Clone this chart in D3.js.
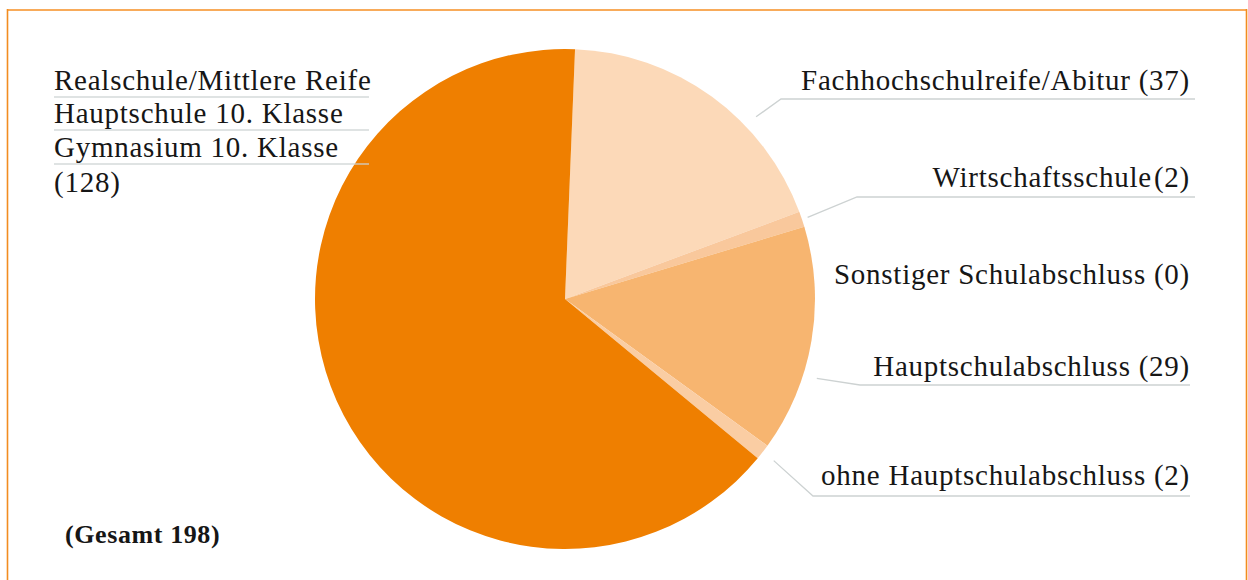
<!DOCTYPE html>
<html>
<head>
<meta charset="utf-8">
<script src="https://cdn.jsdelivr.net/npm/d3@7"></script>
<style>
  body { margin: 0; background: #fff; }
  text { font-family: "Liberation Serif", serif; fill: #161616; }
</style>
</head>
<body>
<div id="chart"></div>
<script>
var svgWidth = 1248;
var svgHeight = 580;

// data, clockwise from top
var categories = ["Fachhochschulreife/Abitur", "Wirtschaftsschule", "Sonstiger Schulabschluss",
  "Hauptschulabschluss", "ohne Hauptschulabschluss", "Realschule/Mittlere Reife"];
var counts = [37, 2, 0, 29, 2, 128];
var total = 198;
var colors = ["#fcd9b8", "#f9c89c", "#f9c89c", "#f7b570", "#facda3", "#ef7f00"];

// label layout: baseline, underline y, elbow x of leader, underline end, anchor inside slice
var labelY = [90, 187, 284, 376, 485];
var lineY = [99, 197, null, 385, 496];
var elbowX = [781, 857, null, 860, 813];
var lineEnd = [1195, 1195, null, 1190, 1190];
var anchorFrac = [0.655, 0.5, 0.5, 0.65, 0.5];

var cx = 565, cy = 299, radius = 250;
var startDeg = 2.3;
var fontSize = 29;

var svg = d3.select("#chart")
    .append("svg")
    .attr("width", svgWidth)
    .attr("height", svgHeight);

// frame
svg.append("line")
    .attr("x1", 7).attr("x2", 1247)
    .attr("y1", 10).attr("y2", 10)
    .attr("stroke", "#f8ab5a")
    .attr("stroke-width", 2);
svg.selectAll(".side")
    .data([7.5, 1246.5])
    .enter()
    .append("line")
    .attr("class", "side")
    .attr("x1", d => d).attr("x2", d => d)
    .attr("y1", 9).attr("y2", 580)
    .attr("stroke", "#f28c20")
    .attr("stroke-width", 1.6);

var pie = d3.pie()
    .sort(null)
    .value(d => d)
    .startAngle(startDeg * Math.PI / 180)
    .endAngle(startDeg * Math.PI / 180 + 2 * Math.PI);

var arcs = pie(counts);

var arc = d3.arc()
    .innerRadius(0)
    .outerRadius(radius);

var pieGroup = svg.append("g")
    .attr("transform", `translate(${cx}, ${cy})`);

pieGroup.selectAll("path")
    .data(arcs)
    .enter()
    .append("path")
    .attr("d", arc)
    .attr("fill", (d, i) => colors[i]);

// right-hand labels
var textRight = 1190;
arcs.slice(0, 5).forEach(function(d, i) {
    var label = categories[i] + " (" + counts[i] + ")";
    if (elbowX[i] !== null) {
        var a = d.startAngle + (d.endAngle - d.startAngle) * anchorFrac[i];
        var r = i === 1 ? 256 : 264;
        var x0 = cx + r * Math.sin(a);
        var y0 = cy - r * Math.cos(a);
        svg.append("polyline")
            .attr("points", `${x0},${y0} ${elbowX[i]},${lineY[i]} ${lineEnd[i]},${lineY[i]}`)
            .attr("fill", "none")
            .attr("stroke", "#cdd2d2")
            .attr("stroke-width", 1.3);
    }
    svg.append("text")
        .attr("x", textRight)
        .attr("y", labelY[i])
        .attr("text-anchor", "end")
        .attr("font-size", fontSize)
        .attr("letter-spacing", 0.75)
        .attr("word-spacing", i === 1 ? -6 : 0)
        .text(label);
});

// left label for the big slice
var leftLines = ["Realschule/Mittlere Reife", "Hauptschule 10. Klasse", "Gymnasium 10. Klasse", "(" + counts[5] + ")"];
var leftY = [90, 123, 157, 192];
leftLines.forEach(function(t, i) {
    svg.append("text")
        .attr("x", 54)
        .attr("y", leftY[i])
        .attr("font-size", fontSize)
        .attr("letter-spacing", 0.75)
        .text(t);
    if (i < 3) {
        svg.append("line")
            .attr("x1", 54)
            .attr("x2", 369)
            .attr("y1", leftY[i] + 7)
            .attr("y2", leftY[i] + 7)
            .attr("stroke", "#cdd2d2")
            .attr("stroke-opacity", 0.85)
            .attr("stroke-width", 1.3);
    }
});

svg.append("text")
    .attr("x", 65)
    .attr("y", 543)
    .attr("font-size", 26)
    .attr("font-weight", "bold")
    .attr("letter-spacing", 0.6)
    .text("(Gesamt " + total + ")");
</script>
</body>
</html>
